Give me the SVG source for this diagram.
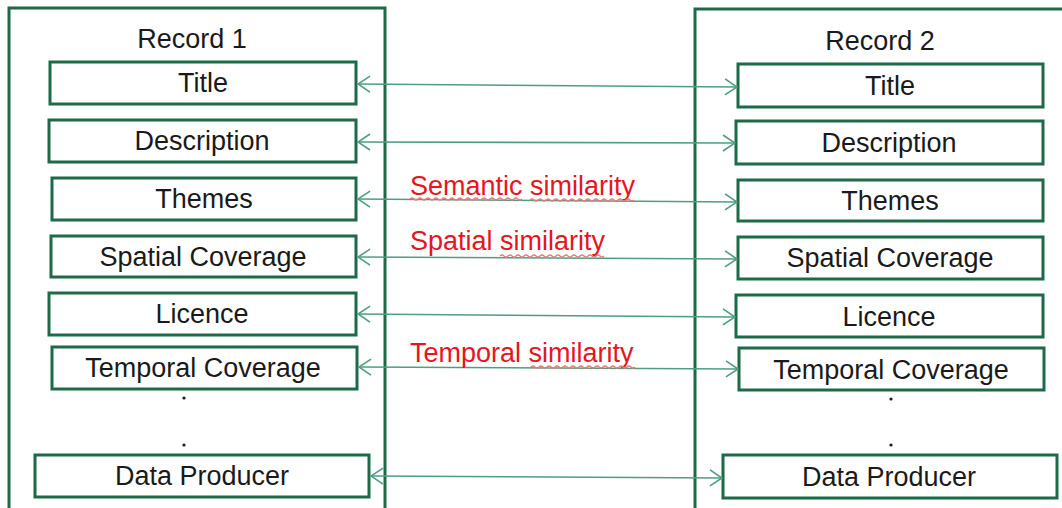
<svg xmlns="http://www.w3.org/2000/svg" width="1062" height="508" viewBox="0 0 1062 508">
<style>
.outer{fill:none;stroke:#1d6a48;stroke-width:3}
.box{fill:#fff;stroke:#1d6a48;stroke-width:3}
.lbl{font-family:"Liberation Sans",Arial,sans-serif;font-size:27px;fill:#1a1a1a;text-anchor:middle}
.red{font-family:"Liberation Sans",Arial,sans-serif;font-size:27px;fill:#e8141e}
.conn{stroke:#4f9e80;stroke-width:1.6;fill:none;marker-start:url(#ah);marker-end:url(#ah)}
.sq{stroke:#e87a7a;stroke-width:1.2;fill:none}
</style>
<defs>
<marker id="ah" viewBox="0 0 14 18" refX="13" refY="9" markerWidth="14" markerHeight="18" markerUnits="userSpaceOnUse" orient="auto-start-reverse">
<path d="M1,1 L13,9 L1,17" fill="none" stroke="#4f9e80" stroke-width="1.6"/>
</marker>
</defs>
<g id="record1">
<rect class="outer" x="9" y="8" width="376" height="520"/>
<text class="lbl" x="192" y="48">Record 1</text>
</g>
<g id="record2">
<rect class="outer" x="695" y="9" width="400" height="520"/>
<text class="lbl" x="880" y="50">Record 2</text>
</g>
<g id="r1-title"><rect class="box" x="50" y="62" width="306" height="42"/><text class="lbl" x="203" y="92">Title</text></g>
<g id="r1-description"><rect class="box" x="49" y="120" width="307" height="42"/><text class="lbl" x="202" y="150">Description</text></g>
<g id="r1-themes"><rect class="box" x="52" y="178" width="304" height="42"/><text class="lbl" x="204" y="208">Themes</text></g>
<g id="r1-spatial"><rect class="box" x="51" y="236" width="305" height="41"/><text class="lbl" x="203" y="266">Spatial Coverage</text></g>
<g id="r1-licence"><rect class="box" x="49" y="293" width="307" height="42"/><text class="lbl" x="202" y="323">Licence</text></g>
<g id="r1-temporal"><rect class="box" x="52" y="347" width="305" height="42"/><text class="lbl" x="203" y="377">Temporal Coverage</text></g>
<g id="r1-dots"><circle cx="184" cy="398" r="1.6" fill="#1a1a1a"/><circle cx="184" cy="445" r="1.6" fill="#1a1a1a"/></g>
<g id="r1-producer"><rect class="box" x="35" y="455" width="334" height="42"/><text class="lbl" x="202" y="485">Data Producer</text></g>

<g id="r2-title"><rect class="box" x="738" y="64" width="305" height="43"/><text class="lbl" x="890" y="95">Title</text></g>
<g id="r2-description"><rect class="box" x="736" y="121" width="307" height="43"/><text class="lbl" x="889" y="152">Description</text></g>
<g id="r2-themes"><rect class="box" x="738" y="180" width="305" height="41"/><text class="lbl" x="890" y="210">Themes</text></g>
<g id="r2-spatial"><rect class="box" x="738" y="237" width="305" height="42"/><text class="lbl" x="890" y="267">Spatial Coverage</text></g>
<g id="r2-licence"><rect class="box" x="736" y="295" width="307" height="42"/><text class="lbl" x="889" y="326">Licence</text></g>
<g id="r2-temporal"><rect class="box" x="739" y="348" width="305" height="42"/><text class="lbl" x="891" y="379">Temporal Coverage</text></g>
<g id="r2-dots"><circle cx="891" cy="399" r="1.6" fill="#1a1a1a"/><circle cx="891" cy="445" r="1.6" fill="#1a1a1a"/></g>
<g id="r2-producer"><rect class="box" x="723" y="455" width="334" height="43"/><text class="lbl" x="889" y="486">Data Producer</text></g>

<g id="connectors">
<line class="conn" x1="358" y1="84" x2="737" y2="87"/>
<line class="conn" x1="358" y1="142" x2="735" y2="143"/>
<line class="conn" x1="358" y1="199" x2="737" y2="202"/>
<line class="conn" x1="358" y1="257" x2="737" y2="259"/>
<line class="conn" x1="358" y1="314" x2="735" y2="317"/>
<line class="conn" x1="359" y1="367" x2="738" y2="369"/>
<line class="conn" x1="371" y1="476" x2="722" y2="478"/>
</g>
<g id="labels">
<text class="red" x="410" y="195">Semantic similarity</text>
<text class="red" x="410" y="250">Spatial similarity</text>
<text class="red" x="410" y="362">Temporal similarity</text>
<path class="sq" d="M410,199 q2,-2 4,0 t4,0 t4,0 t4,0 t4,0 t4,0 t4,0 t4,0 t4,0 t4,0 t4,0 t4,0 t4,0 t4,0 t4,0 t4,0 t4,0 t4,0 t4,0 t4,0 t4,0 t4,0 t4,0 t4,0 t4,0 t4,0 t4,0 t4,0"/>
<path class="sq" d="M530,200 q2,-2 4,0 t4,0 t4,0 t4,0 t4,0 t4,0 t4,0 t4,0 t4,0 t4,0 t4,0 t4,0 t4,0 t4,0 t4,0 t4,0 t4,0 t4,0 t4,0 t4,0 t4,0 t4,0 t4,0 t4,0 t4,0 t4,0"/>
<path class="sq" d="M500,256 q2,-2 4,0 t4,0 t4,0 t4,0 t4,0 t4,0 t4,0 t4,0 t4,0 t4,0 t4,0 t4,0 t4,0 t4,0 t4,0 t4,0 t4,0 t4,0 t4,0 t4,0 t4,0 t4,0 t4,0 t4,0 t4,0 t4,0"/>
<path class="sq" d="M531,367 q2,-2 4,0 t4,0 t4,0 t4,0 t4,0 t4,0 t4,0 t4,0 t4,0 t4,0 t4,0 t4,0 t4,0 t4,0 t4,0 t4,0 t4,0 t4,0 t4,0 t4,0 t4,0 t4,0 t4,0 t4,0 t4,0 t4,0"/>
</g>
</svg>
